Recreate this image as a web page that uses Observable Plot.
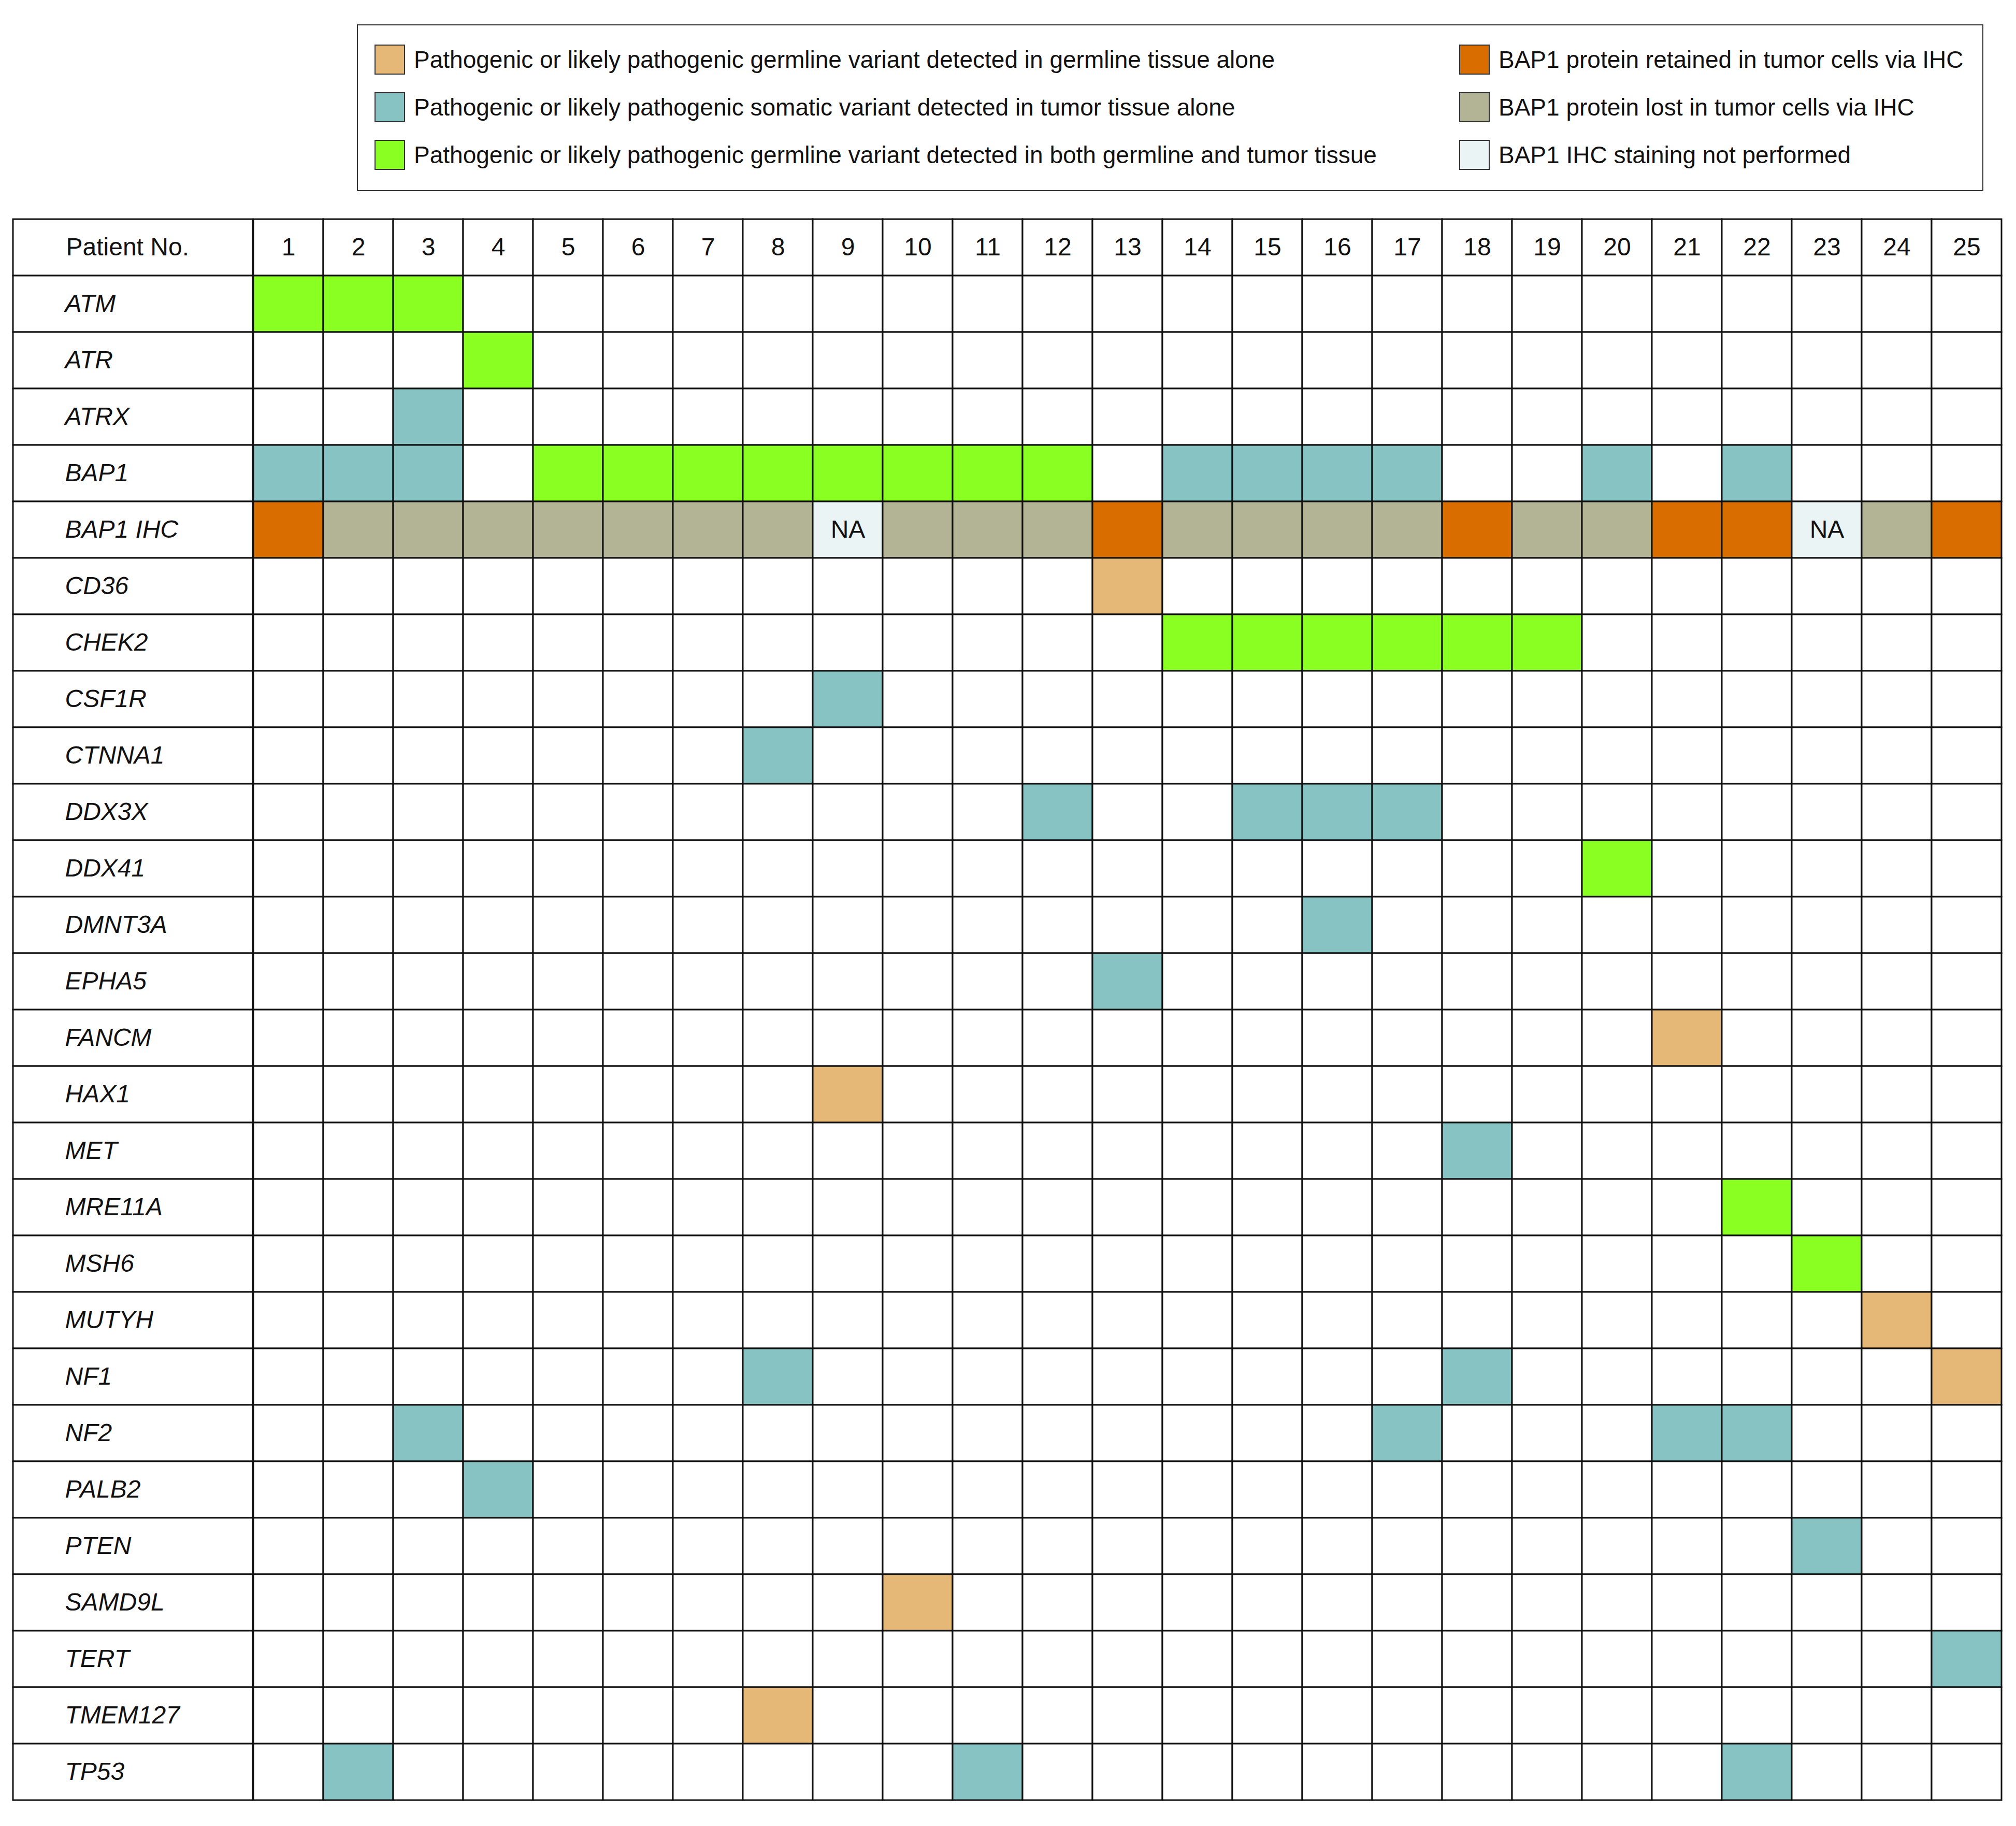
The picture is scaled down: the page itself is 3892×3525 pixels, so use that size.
<!DOCTYPE html>
<html>
<head>
<meta charset="utf-8">
<script src="https://cdn.jsdelivr.net/npm/d3@7"></script>
<script src="https://cdn.jsdelivr.net/npm/@observablehq/plot@0.6"></script>
<style>
  html, body { margin: 0; padding: 0; background: #fff; }
  body { width: 3892px; height: 3525px; position: relative; font-family: "Liberation Sans", Arial, sans-serif; color: #111; }
  #legend { position: absolute; left: 689px; top: 47px; width: 3140px; height: 322px; box-sizing: border-box;
            border: 2.5px solid #333; }
  .item { position: absolute; display: flex; align-items: center; height: 58px; }
  .sw { width: 59px; height: 58px; box-sizing: border-box; border: 2px solid #333; margin-right: 17px; flex: none; }
  .lab { font-size: 46px; white-space: nowrap; line-height: 1; }
  #table { position: absolute; left: 23px; top: 421px; display: flex; }
  #table svg { display: block; overflow: visible; }
</style>
</head>
<body>
<div id="legend"></div>
<div id="table"></div>
<script>
// ---- data ----
const patients = [1, 2, 3, 4, 5, 6, 7, 8, 9, 10, 11, 12, 13, 14, 15, 16, 17, 18, 19, 20, 21, 22, 23, 24, 25];
const headerLabel = "Patient No.";
const geneRows = ["ATM", "ATR", "ATRX", "BAP1", "BAP1 IHC", "CD36", "CHEK2", "CSF1R", "CTNNA1", "DDX3X", "DDX41",
  "DMNT3A", "EPHA5", "FANCM", "HAX1", "MET", "MRE11A", "MSH6", "MUTYH", "NF1", "NF2", "PALB2", "PTEN",
  "SAMD9L", "TERT", "TMEM127", "TP53"];

// gene -> patients with a germline variant detected in germline tissue alone
const germlineOnly = [["CD36", [13]], ["FANCM", [21]], ["HAX1", [9]], ["MUTYH", [24]], ["NF1", [25]],
  ["SAMD9L", [10]], ["TMEM127", [8]]];
// gene -> patients with a somatic variant detected in tumor tissue alone
const somaticOnly = [["ATRX", [3]], ["BAP1", [1, 2, 3, 14, 15, 16, 17, 20, 22]], ["CSF1R", [9]], ["CTNNA1", [8]],
  ["DDX3X", [12, 15, 16, 17]], ["DMNT3A", [16]], ["EPHA5", [13]], ["MET", [18]], ["NF1", [8, 18]],
  ["NF2", [3, 17, 21, 22]], ["PALB2", [4]], ["PTEN", [23]], ["TERT", [25]], ["TP53", [2, 11, 22]]];
// gene -> patients with a germline variant detected in both germline and tumor tissue
const germlineAndTumor = [["ATM", [1, 2, 3]], ["ATR", [4]], ["BAP1", [5, 6, 7, 8, 9, 10, 11, 12]],
  ["CHEK2", [14, 15, 16, 17, 18, 19]], ["DDX41", [20]], ["MRE11A", [22]], ["MSH6", [23]]];
// BAP1 IHC status per patient (R retained, L lost, NA not performed)
const ihcRow = "BAP1 IHC";
const ihcStatus = ["R", "L", "L", "L", "L", "L", "L", "L", "NA", "L", "L", "L", "R", "L", "L", "L", "L", "R",
  "L", "L", "R", "R", "NA", "L", "R"];

const categoryKeys = ["germline", "somatic", "both", "R", "L", "NA", "none"];
const categoryColors = ["#E5B877", "#86C3C2", "#8AFF22", "#D96D00", "#B3B396", "#EAF4F5", "#FFFFFF"];
const legendLabels = [
  "Pathogenic or likely pathogenic germline variant detected in germline tissue alone",
  "Pathogenic or likely pathogenic somatic variant detected in tumor tissue alone",
  "Pathogenic or likely pathogenic germline variant detected in both germline and tumor tissue",
  "BAP1 protein retained in tumor cells via IHC",
  "BAP1 protein lost in tumor cells via IHC",
  "BAP1 IHC staining not performed"
];

// ---- legend ----
const legend = document.getElementById("legend");
legendLabels.forEach((label, i) => {
  const col = Math.floor(i / 3), row = i % 3;
  const item = document.createElement("div");
  item.className = "item";
  item.style.left = (col === 0 ? 32 : 2126) + "px";
  item.style.top = (37 + row * 92) + "px";
  const sw = document.createElement("div");
  sw.className = "sw";
  sw.style.background = categoryColors[i];
  const lab = document.createElement("div");
  lab.className = "lab";
  lab.textContent = label;
  item.appendChild(sw); item.appendChild(lab);
  legend.appendChild(item);
});

// ---- table data ----
const rows = [headerLabel, ...geneRows];
const lookup = new Map();
for (const [key, list] of [["germline", germlineOnly], ["somatic", somaticOnly], ["both", germlineAndTumor]]) {
  for (const [gene, ps] of list) for (const p of ps) lookup.set(gene + "|" + p, key);
}
const cells = [];
for (const r of rows) {
  for (const [i, p] of patients.entries()) {
    let cat = "none";
    if (r === ihcRow) cat = ihcStatus[i];
    else if (lookup.has(r + "|" + p)) cat = lookup.get(r + "|" + p);
    cells.push({row: r, patient: String(p), cat});
  }
}
const naCells = cells.filter(d => d.cat === "NA");

const rowHeight = 109;
const H = rows.length * rowHeight + 4;
const fontFamily = '"Liberation Sans", Arial, sans-serif';

const labelPlot = Plot.plot({
  width: 465, height: H,
  marginLeft: 2, marginRight: 0, marginTop: 2, marginBottom: 2,
  x: {domain: ["label"], padding: 0, axis: null},
  y: {domain: rows, padding: 0, axis: null},
  style: {fontFamily, fontSize: "48px", background: "transparent", overflow: "visible"},
  marks: [
    Plot.cell(rows, {x: () => "label", y: d => d, fill: "white", stroke: "#111", strokeWidth: 3}),
    Plot.text([headerLabel], {y: d => d, text: d => d, frameAnchor: "left", textAnchor: "start", dx: 102, fontSize: 48, fill: "#111"}),
    Plot.text(geneRows, {y: d => d, text: d => d, frameAnchor: "left", textAnchor: "start", dx: 100, fontSize: 48, fontStyle: "italic", fill: "#111"})
  ]
});

const gridPlot = Plot.plot({
  width: 3379, height: H,
  marginLeft: 0, marginRight: 2, marginTop: 2, marginBottom: 2,
  x: {domain: patients.map(String), padding: 0, axis: null},
  y: {domain: rows, padding: 0, axis: null},
  color: {domain: categoryKeys, range: categoryColors},
  style: {fontFamily, fontSize: "48px", background: "transparent", overflow: "visible"},
  marks: [
    Plot.cell(cells, {x: "patient", y: "row", fill: "cat", stroke: "#111", strokeWidth: 3}),
    Plot.text(patients, {x: d => String(d), y: () => headerLabel, text: d => String(d), fontSize: 48, fill: "#111"}),
    Plot.text(naCells, {x: "patient", y: "row", text: () => "NA", fontSize: 48, fill: "#111"})
  ]
});

const table = document.getElementById("table");
table.appendChild(labelPlot);
table.appendChild(gridPlot);
</script>
</body>
</html>
